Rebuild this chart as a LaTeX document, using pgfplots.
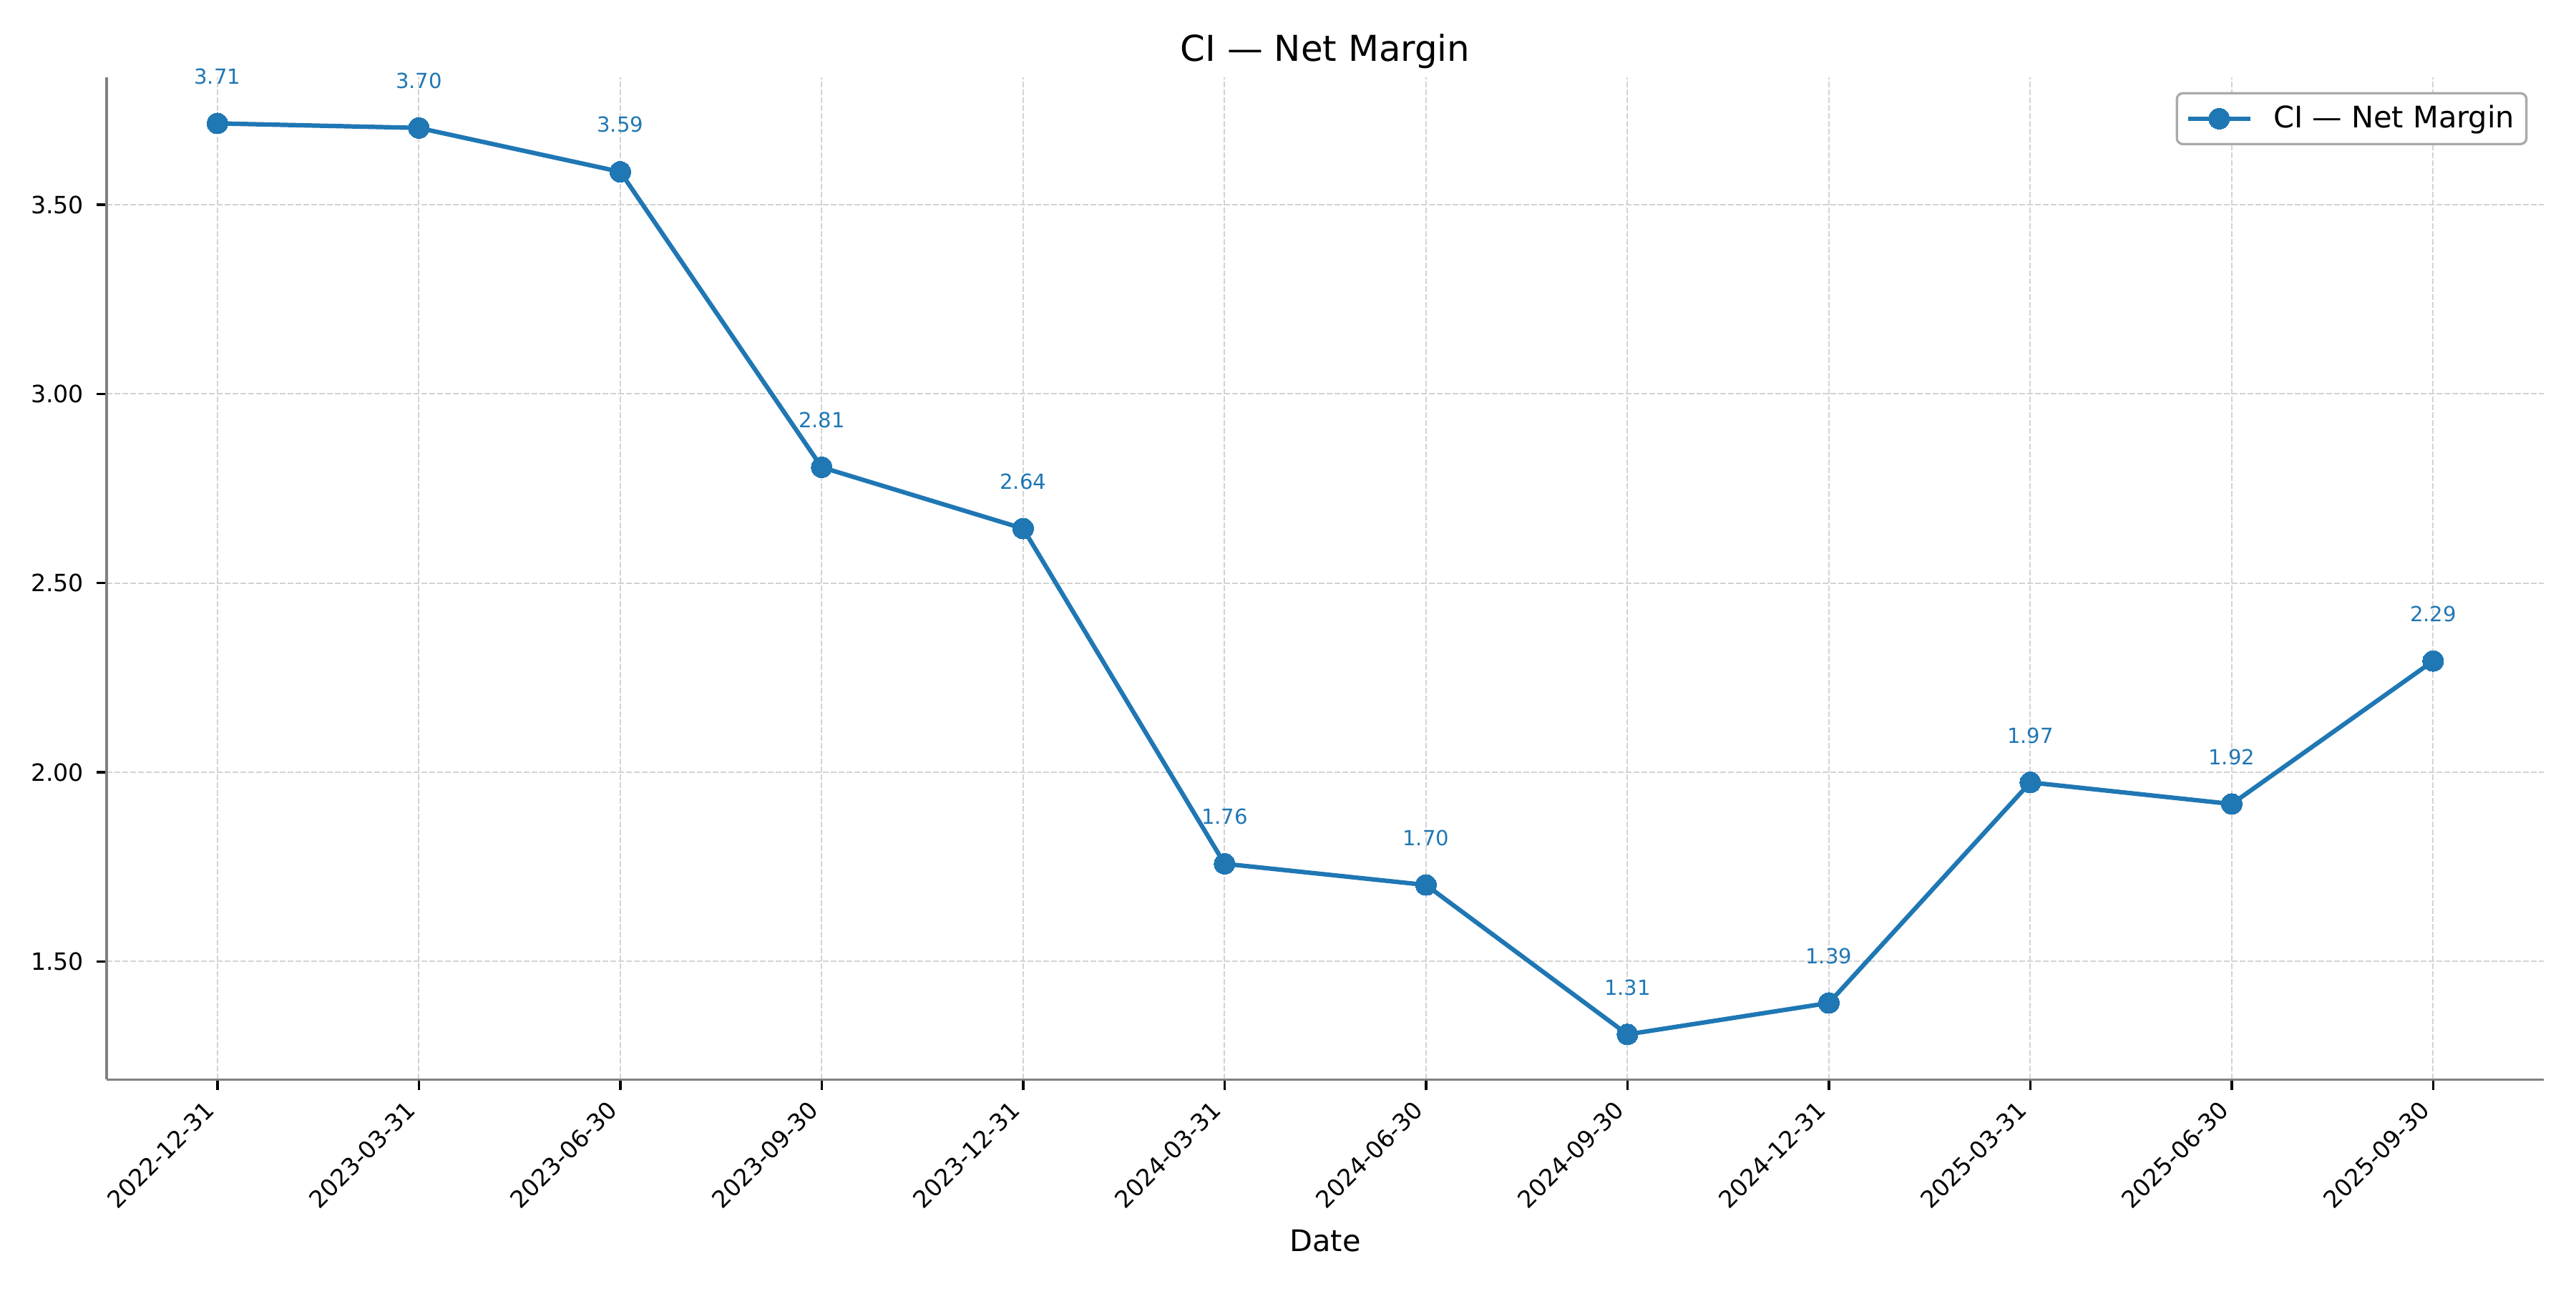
\documentclass[border=0pt]{standalone}
\usepackage{pgfplots}
\pgfplotsset{compat=1.18}
\usepackage{fontspec}
\setmainfont{DejaVu Sans}

\definecolor{mplblue}{HTML}{1F77B4}
\definecolor{gridgray}{HTML}{D3D3D3}
\definecolor{spinegray}{HTML}{808080}
\definecolor{legendedge}{HTML}{AAAAAA}

\begin{document}
\begin{tikzpicture}
% page = 12in x 6in, axis box placed inside it
\useasboundingbox (-35.9pt,-70.3pt) rectangle (831.3pt,363.3pt);
\begin{axis}[
    at={(0pt,0pt)}, anchor=south west,
    scale only axis,
    width=820.5pt, height=337.3pt,
    xmin=-0.55, xmax=11.55,
    ymin=1.188, ymax=3.837,
    clip=false,
    axis x line*=bottom, axis y line*=left,
    axis line style={spinegray, line width=0.8pt},
    tick align=outside,
    major tick length=3.5pt,
    tick style={black, line width=0.8pt},
    xtick={0,...,11},
    xticklabels={2022-12-31,2023-03-31,2023-06-30,2023-09-30,2023-12-31,2024-03-31,2024-06-30,2024-09-30,2024-12-31,2025-03-31,2025-06-30,2025-09-30},
    ytick={1.5,2,2.5,3,3.5},
    /pgf/number format/assume math mode=true,
    y tick label style={/pgf/number format/fixed, /pgf/number format/fixed zerofill, /pgf/number format/precision=2},
    yticklabel style={font=\fontsize{8}{9.6}\selectfont, inner sep=0pt, xshift=-4pt},
    xticklabel style={font=\fontsize{8}{9.6}\selectfont, inner sep=0pt, xshift=-4.8pt, yshift=-3pt, rotate=45, anchor=north east},
    grid=major,
    major grid style={gridgray, line width=0.5pt, dash pattern=on 1.85pt off 0.8pt},
    title={CI — Net Margin},
    every axis title shift=0pt,
    title style={at={(0.5,1)}, anchor=base, yshift=5.5pt, inner sep=0pt, font=\fontsize{12}{14.4}\selectfont},
    xlabel={Date},
    xlabel style={at={(0.5,0)}, anchor=base, yshift=-57.8pt, inner sep=0pt, font=\fontsize{10}{12}\selectfont},
    legend style={at={(1,1)}, anchor=north east, xshift=-5.5pt, yshift=-5pt,
        draw=legendedge, line width=0.8pt, rounded corners=2pt,
        inner xsep=3pt, inner ysep=3pt,
        font=\fontsize{10}{12}\selectfont,
        nodes={inner sep=1pt},
        /tikz/every odd column/.append style={column sep=6pt}},
    legend image code/.code={
        \draw[#1, mark repeat=2, mark phase=2] plot coordinates {(0pt,0pt) (10.5pt,0pt) (21pt,0pt)};
    },
]
\addplot[
    color=mplblue, line width=1.5pt,
    mark=*, mark size=3.5pt, mark options={solid, fill=mplblue, draw=mplblue, line width=0pt},
    point meta=explicit symbolic,
    nodes near coords,
    nodes near coords style={mplblue, font=\fontsize{7}{8.4}\selectfont, anchor=base, inner sep=0pt, yshift=13.3pt},
] coordinates {
    (0,3.715) [3.71]
    (1,3.703) [3.70]
    (2,3.587) [3.59]
    (3,2.806) [2.81]
    (4,2.644) [2.64]
    (5,1.758) [1.76]
    (6,1.702) [1.70]
    (7,1.307) [1.31]
    (8,1.390) [1.39]
    (9,1.973) [1.97]
    (10,1.916) [1.92]
    (11,2.294) [2.29]
};
\addlegendentry{CI — Net Margin}
\end{axis}
\end{tikzpicture}
\end{document}
